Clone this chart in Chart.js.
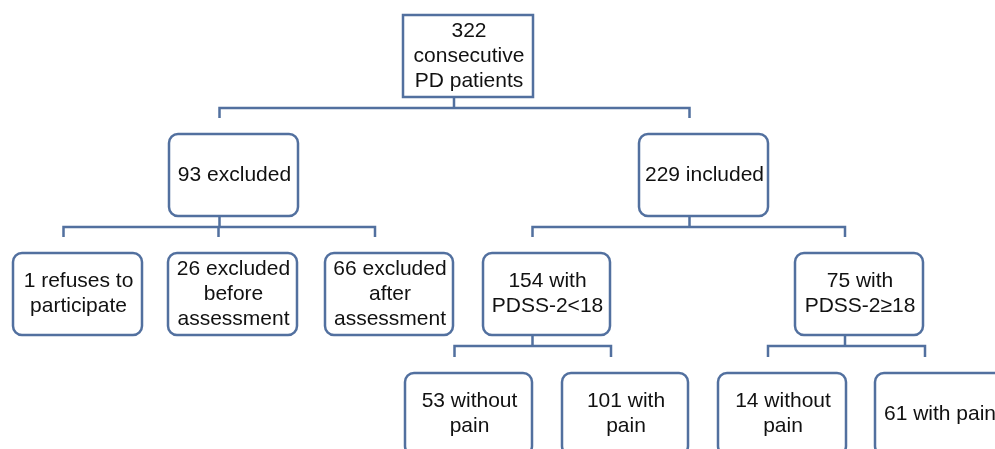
<!DOCTYPE html>
<html>
<head>
<meta charset="utf-8">
<script src="https://cdn.jsdelivr.net/npm/chart.js@4/dist/chart.umd.min.js"></script>
<style>
  html, body { margin: 0; padding: 0; background: #fff; }
  #flow { display: block; }
</style>
</head>
<body>
<canvas id="flow" width="995" height="449"></canvas>
<script>
// patient counts per node
const counts = [322, 93, 229, 1, 26, 66, 154, 75, 53, 101, 14, 61];
// node texts (line by line)
const nodeLines = [
  [`${counts[0]}`, 'consecutive', 'PD patients'],
  [`${counts[1]} excluded`],
  [`${counts[2]} included`],
  [`${counts[3]} refuses to`, 'participate'],
  [`${counts[4]} excluded`, 'before', 'assessment'],
  [`${counts[5]} excluded`, 'after', 'assessment'],
  [`${counts[6]} with`, 'PDSS-2<18'],
  [`${counts[7]} with`, 'PDSS-2≥18'],
  [`${counts[8]} without`, 'pain'],
  [`${counts[9]} with`, 'pain'],
  [`${counts[10]} without`, 'pain'],
  [`${counts[11]} with pain`]
];
// tree structure
const parents = [null, 0, 0, 1, 1, 1, 2, 2, 6, 6, 7, 7];
const levels  = [0, 1, 1, 2, 2, 2, 2, 2, 3, 3, 3, 3];

// layout (canvas units)
const boxLeft = [403, 169, 639, 13, 168, 325, 483, 795, 405, 562, 718, 875];
const boxWidth = [130, 129, 129, 129, 129, 128, 127, 128, 127, 126, 128, 128];
const levelTop = [15, 134, 253, 373];
const boxHeight = 82;
const LINE = '#52709f';
const STEM_OFFSET = -14;

const centers = counts.map((c, i) => ({
  x: boxLeft[i] + boxWidth[i] / 2,
  y: levelTop[levels[i]] + boxHeight / 2
}));

const flowPlugin = {
  id: 'flow',
  afterDatasetsDraw(chart) {
    const ctx = chart.ctx;
    const xs = chart.scales.x, ys = chart.scales.y;
    const pts = chart.getDatasetMeta(0).data;
    const px = v => xs.getPixelForValue(v);
    const py = v => ys.getPixelForValue(v);
    const halfW = i => (px(boxWidth[i]) - px(0)) / 2;
    const halfH = (py(boxHeight) - py(0)) / 2;
    const stemX = i => pts[i].x + (px(STEM_OFFSET) - px(0));

    ctx.save();
    ctx.strokeStyle = LINE;
    ctx.lineWidth = 2.5;
    ctx.lineCap = 'butt';

    // connectors
    counts.forEach((c, p) => {
      const kids = parents.map((q, i) => q === p ? i : -1).filter(i => i >= 0);
      if (!kids.length) return;
      const bottom = pts[p].y + halfH;
      const barY = bottom + (py(11) - py(0));
      const dropY = pts[kids[0]].y - halfH - (py(16) - py(0));
      const dx = kids.map(stemX);
      ctx.beginPath();
      ctx.moveTo(stemX(p), bottom);
      ctx.lineTo(stemX(p), barY);
      ctx.moveTo(Math.min(...dx) - 1.25, barY);
      ctx.lineTo(Math.max(...dx) + 1.25, barY);
      dx.forEach(x => { ctx.moveTo(x, barY); ctx.lineTo(x, dropY); });
      ctx.stroke();
    });

    // boxes and text
    ctx.font = '21px "Liberation Sans", Arial, sans-serif';
    ctx.textAlign = 'center';
    ctx.textBaseline = 'middle';
    counts.forEach((c, i) => {
      const x0 = pts[i].x - halfW(i), y0 = pts[i].y - halfH;
      ctx.beginPath();
      ctx.roundRect(x0, y0, halfW(i) * 2, halfH * 2, levels[i] === 0 ? 0 : 9);
      ctx.fillStyle = '#fff';
      ctx.fill();
      ctx.stroke();
      ctx.fillStyle = '#111';
      const lines = nodeLines[i];
      const lh = 25;
      lines.forEach((t, k) => {
        ctx.fillText(t, pts[i].x + 1, pts[i].y + (k - (lines.length - 1) / 2) * lh);
      });
    });
    ctx.restore();
  }
};

new Chart(document.getElementById('flow'), {
  type: 'scatter',
  data: {
    datasets: [{
      data: centers,
      pointRadius: 0,
      pointHoverRadius: 0
    }]
  },
  options: {
    responsive: false,
    animation: false,
    devicePixelRatio: 1,
    layout: { padding: 0 },
    plugins: { legend: { display: false }, tooltip: { enabled: false } },
    scales: {
      x: { type: 'linear', min: 0, max: 995, display: false },
      y: { type: 'linear', min: 0, max: 449, reverse: true, display: false }
    }
  },
  plugins: [flowPlugin]
});
</script>
</body>
</html>
